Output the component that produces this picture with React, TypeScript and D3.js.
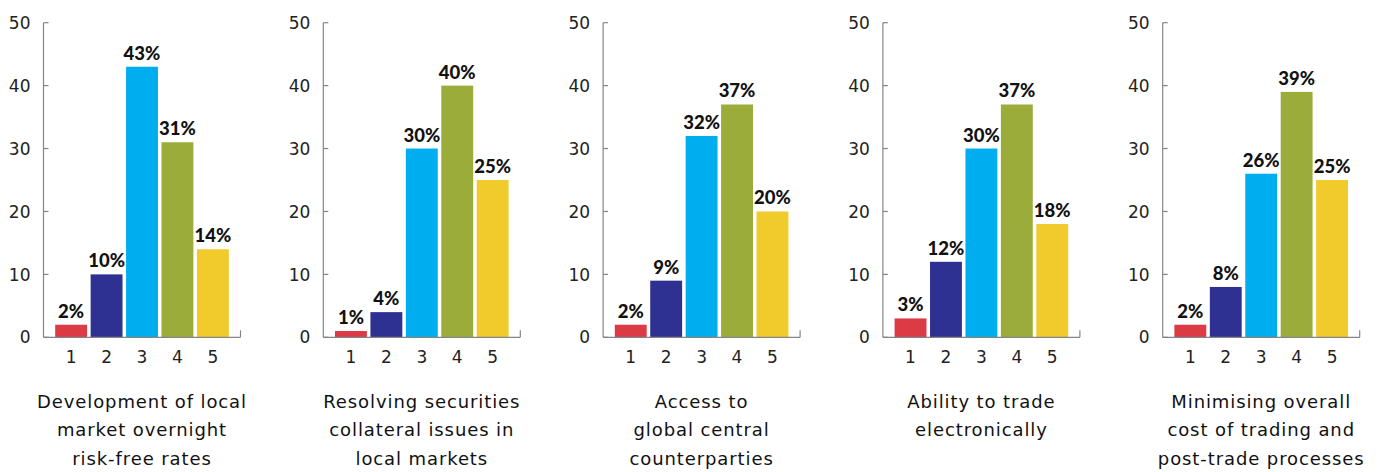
import React from "react";
import * as d3 from "d3";

const categories = ["1", "2", "3", "4", "5"];
const barColors = ["#DC3B46", "#2E3192", "#00AEEF", "#9BAC3B", "#F1CB2B"];
const yTicks = [0, 10, 20, 30, 40, 50];

const panelTitles = [
  ["Development of local", "market overnight", "risk-free rates"],
  ["Resolving securities", "collateral issues in", "local markets"],
  ["Access to", "global central", "counterparties"],
  ["Ability to trade", "electronically"],
  ["Minimising overall", "cost of trading and", "post-trade processes"],
];

const valuesLocalRates = [2, 10, 43, 31, 14];
const valuesCollateral = [1, 4, 30, 40, 25];
const valuesCentralCounterparties = [2, 9, 32, 37, 20];
const valuesElectronic = [3, 12, 30, 37, 18];
const valuesCostOfTrading = [2, 8, 26, 39, 25];

const panelValues = [
  valuesLocalRates,
  valuesCollateral,
  valuesCentralCounterparties,
  valuesElectronic,
  valuesCostOfTrading,
];

const W = 1386;
const H = 472;
const firstAxisX = 43.5;
const panelStep = 279.8;
const plotWidth = 197;
const yTop = 22.7;
const yBase = 337.3;
const axisColor = "#858587";
const textFont = "'DejaVu Sans', 'Noto Sans', sans-serif";
const valueFont = "'Lato', 'Roboto', sans-serif";

function Panel({ index }: { index: number }) {
  const values = panelValues[index];
  const x0 = firstAxisX + index * panelStep;
  const x = d3
    .scaleBand<string>()
    .domain(categories)
    .range([x0, x0 + plotWidth])
    .paddingInner(0.1)
    .paddingOuter(0.33);
  const y = d3.scaleLinear().domain([0, 50]).range([yBase, yTop]);
  const centerX = x0 + plotWidth / 2;
  const title = panelTitles[index];

  return (
    <g>
      {values.map((v, i) => (
        <rect
          key={i}
          x={x(categories[i])}
          y={y(v)}
          width={x.bandwidth()}
          height={y(0) - y(v)}
          fill={barColors[i]}
        />
      ))}
      {values.map((v, i) => (
        <text
          key={"l" + i}
          x={(x(categories[i]) as number) + x.bandwidth() / 2}
          y={y(v) - 7}
          textAnchor="middle"
          fontFamily={valueFont}
          fontWeight={900}
          fontSize={18.5}
          fill="#111"
        >
          {v}%
        </text>
      ))}
      {/* axes */}
      <line x1={x0} x2={x0} y1={yTop} y2={yBase} stroke={axisColor} strokeWidth={1.2} />
      <line x1={x0} x2={x0 + plotWidth} y1={yBase} y2={yBase} stroke={axisColor} strokeWidth={1.2} />
      <line x1={x0 + plotWidth} x2={x0 + plotWidth} y1={yBase} y2={yBase - 7} stroke={axisColor} strokeWidth={1.2} />
      {yTicks.map((t) => (
        <g key={"t" + t}>
          <line x1={x0} x2={x0 + 5} y1={y(t)} y2={y(t)} stroke={axisColor} strokeWidth={1.2} />
          <text
            x={x0 - 13}
            y={y(t)}
            dy="0.36em"
            textAnchor="end"
            fontFamily={textFont}
            fontSize={17}
            fill="#222"
          >
            {t}
          </text>
        </g>
      ))}
      {categories.map((c) => (
        <text
          key={"c" + c}
          x={(x(c) as number) + x.bandwidth() / 2}
          y={363}
          textAnchor="middle"
          fontFamily={textFont}
          fontSize={17}
          fill="#222"
        >
          {c}
        </text>
      ))}
      {title.map((line, i) => (
        <text
          key={"h" + i}
          x={centerX}
          y={407.5 + i * 28.5}
          textAnchor="middle"
          fontFamily={textFont}
          fontSize={18}
          letterSpacing={0.9}
          fill="#111"
        >
          {line}
        </text>
      ))}
    </g>
  );
}

export default function App() {
  return (
    <svg width={W} height={H} style={{ display: "block", position: "absolute", left: 0, top: 0 }}>
      <rect width={W} height={H} fill="#fff" />
      {panelValues.map((_, i) => (
        <Panel key={i} index={i} />
      ))}
    </svg>
  );
}
